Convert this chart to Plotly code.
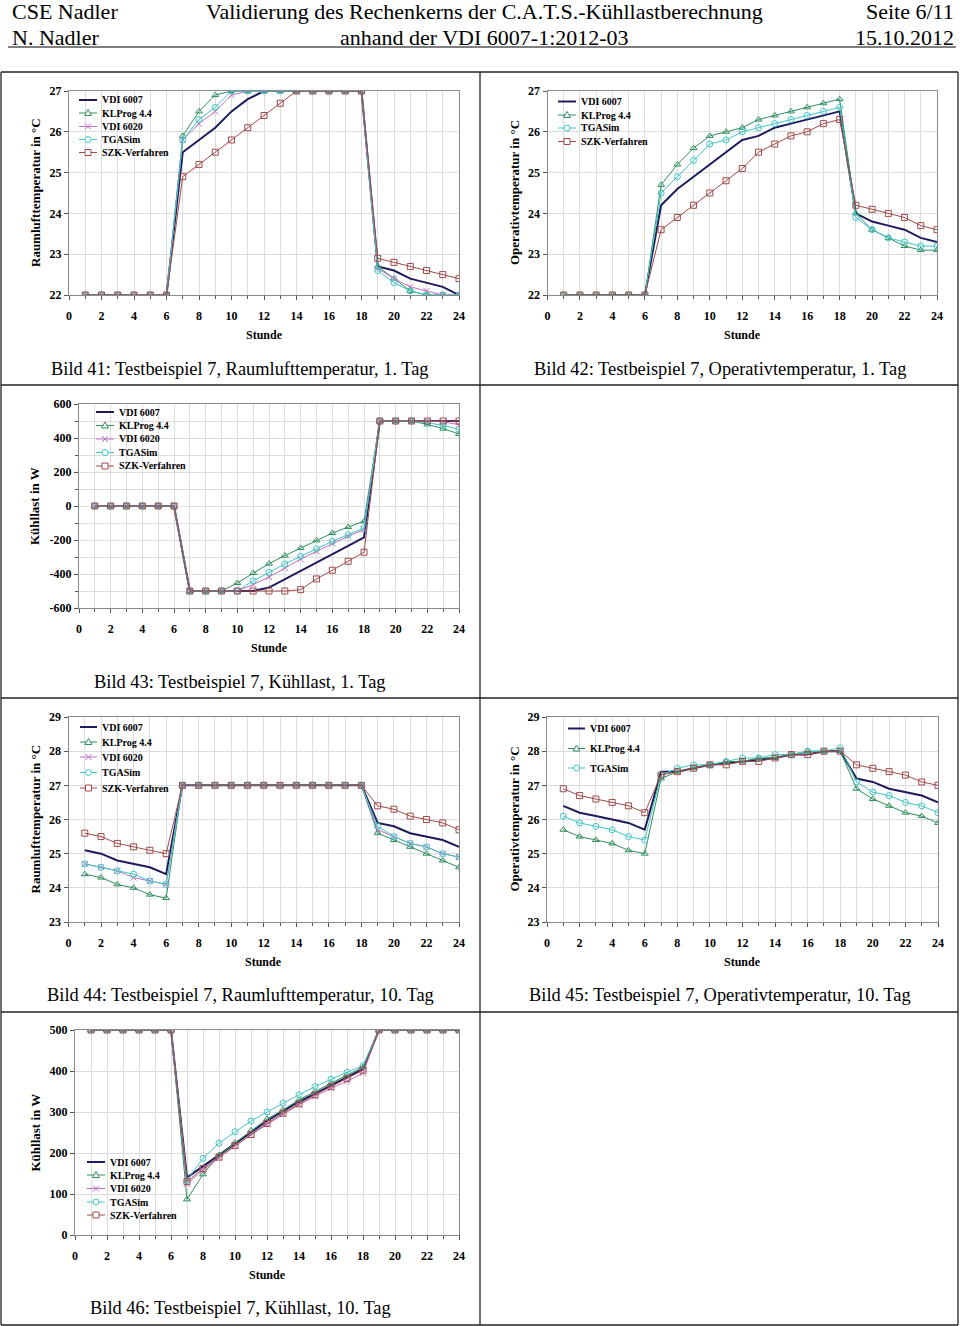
import plotly.graph_objects as go

W, H = 960, 1326
hours = list(range(1, 25))

names = ["VDI 6007", "KLProg 4.4", "VDI 6020", "TGASim", "SZK-Verfahren"]
colors = {"VDI 6007": "#1c1c5c", "KLProg 4.4": "#2f8f5f", "VDI 6020": "#c070c0",
          "TGASim": "#3fc6c6", "SZK-Verfahren": "#a04a4a"}
symbols = {"VDI 6007": None, "KLProg 4.4": "triangle-up-open", "VDI 6020": "x-thin-open",
           "TGASim": "circle-open", "SZK-Verfahren": "square-open"}

# Bild 41: Raumlufttemperatur, 1. Tag
p41_vdi6007 = [22]*6 + [25.5, 25.8, 26.1, 26.5, 26.8, 27, 27, 27, 27, 27, 27, 27, 22.7, 22.6, 22.4, 22.3, 22.2, 22.0]
p41_klprog = [22]*6 + [25.9, 26.5, 26.9, 27, 27, 27, 27, 27, 27, 27, 27, 27, 22.7, 22.4, 22.1, 22.0, 22.0, 22.0]
p41_vdi6020 = [22]*6 + [25.8, 26.2, 26.5, 26.9, 27, 27, 27, 27, 27, 27, 27, 27, 22.65, 22.4, 22.2, 22.1, 22.0, 22.0]
p41_tgasim = [22]*6 + [25.8, 26.3, 26.6, 27, 27, 27, 27, 27, 27, 27, 27, 27, 22.6, 22.3, 22.1, 22.0, 22.0, 22.0]
p41_szk = [22]*6 + [24.9, 25.2, 25.5, 25.8, 26.1, 26.4, 26.7, 27, 27, 27, 27, 27, 22.9, 22.8, 22.7, 22.6, 22.5, 22.4]

# Bild 42: Operativtemperatur, 1. Tag
p42_vdi6007 = [22]*6 + [24.2, 24.6, 24.9, 25.2, 25.5, 25.8, 25.9, 26.1, 26.2, 26.3, 26.4, 26.5, 24.0, 23.8, 23.7, 23.6, 23.4, 23.3]
p42_klprog = [22]*6 + [24.7, 25.2, 25.6, 25.9, 26.0, 26.1, 26.3, 26.4, 26.5, 26.6, 26.7, 26.8, 24.0, 23.6, 23.4, 23.2, 23.1, 23.1]
p42_tgasim = [22]*6 + [24.5, 24.9, 25.3, 25.7, 25.8, 26.0, 26.1, 26.2, 26.3, 26.4, 26.5, 26.6, 23.9, 23.6, 23.4, 23.3, 23.2, 23.2]
p42_szk = [22]*6 + [23.6, 23.9, 24.2, 24.5, 24.8, 25.1, 25.5, 25.7, 25.9, 26.0, 26.2, 26.3, 24.2, 24.1, 24.0, 23.9, 23.7, 23.6]

# Bild 43: Kühllast, 1. Tag
p43_vdi6007 = [0]*6 + [-500, -500, -500, -500, -500, -480, -430, -382, -333, -283, -234, -185, 500, 500, 500, 500, 500, 500]
p43_klprog = [0]*6 + [-500, -500, -500, -453, -394, -339, -292, -247, -202, -159, -124, -90, 500, 500, 500, 480, 455, 424]
p43_vdi6020 = [0]*6 + [-500, -500, -500, -500, -462, -418, -365, -312, -267, -222, -178, -139, 500, 500, 500, 500, 495, 478]
p43_tgasim = [0]*6 + [-500, -500, -500, -500, -440, -390, -341, -296, -251, -208, -169, -129, 500, 500, 500, 490, 474, 449]
p43_szk = [0]*6 + [-500, -500, -500, -500, -500, -500, -500, -492, -429, -378, -325, -272, 500, 500, 500, 500, 500, 500]
p43_yticks = [-600, -400, -200, 0, 200, 400, 600]
p43_yticklabels = ["-600", "-400", "-200", "0", "200", "400", "600"]

# Bild 44: Raumlufttemperatur, 10. Tag
p44_vdi6007 = [25.1, 25.0, 24.8, 24.7, 24.6, 24.4] + [27]*12 + [25.9, 25.8, 25.6, 25.5, 25.4, 25.2]
p44_klprog = [24.4, 24.3, 24.1, 24.0, 23.8, 23.7] + [27]*12 + [25.6, 25.4, 25.2, 25.0, 24.8, 24.6]
p44_vdi6020 = [24.7, 24.6, 24.5, 24.3, 24.2, 24.1] + [27]*12 + [25.7, 25.5, 25.3, 25.2, 25.0, 24.9]
p44_tgasim = [24.7, 24.6, 24.5, 24.4, 24.2, 24.1] + [27]*12 + [25.8, 25.5, 25.3, 25.2, 25.0, 24.9]
p44_szk = [25.6, 25.5, 25.3, 25.2, 25.1, 25.0] + [27]*12 + [26.4, 26.3, 26.1, 26.0, 25.9, 25.7]

# Bild 45: Operativtemperatur, 10. Tag
p45_vdi6007 = [26.4, 26.2, 26.1, 26.0, 25.9, 25.7, 27.4, 27.4, 27.5, 27.6, 27.65, 27.7, 27.75, 27.8, 27.9, 27.9, 28.0, 28.0, 27.2, 27.1, 26.9, 26.8, 26.7, 26.5]
p45_klprog = [25.7, 25.5, 25.4, 25.3, 25.1, 25.0, 27.2, 27.4, 27.5, 27.6, 27.7, 27.7, 27.8, 27.8, 27.9, 28.0, 28.0, 28.0, 26.9, 26.6, 26.4, 26.2, 26.1, 25.9]
p45_tgasim = [26.1, 25.9, 25.8, 25.7, 25.5, 25.4, 27.3, 27.5, 27.6, 27.6, 27.7, 27.8, 27.8, 27.9, 27.9, 28.0, 28.0, 28.1, 27.1, 26.8, 26.7, 26.5, 26.4, 26.2]
p45_szk = [26.9, 26.7, 26.6, 26.5, 26.4, 26.2, 27.3, 27.4, 27.5, 27.6, 27.6, 27.7, 27.7, 27.8, 27.9, 27.9, 28.0, 28.0, 27.6, 27.5, 27.4, 27.3, 27.1, 27.0]

# Bild 46: Kühllast, 10. Tag
p46_vdi6007 = [500]*6 + [140, 168, 195, 222, 250, 278, 302, 325, 345, 365, 385, 405] + [500]*6
p46_klprog = [500]*6 + [87, 148, 195, 225, 255, 283, 305, 330, 350, 370, 390, 410] + [500]*6
p46_vdi6020 = [500]*6 + [125, 158, 188, 218, 245, 270, 295, 318, 338, 358, 375, 395] + [500]*6
p46_tgasim = [500]*6 + [133, 187, 224, 252, 278, 300, 322, 342, 362, 380, 397, 413] + [500]*6
p46_szk = [500]*6 + [130, 162, 190, 218, 245, 272, 297, 320, 342, 362, 382, 402] + [500]*6

captions = ["Bild 41: Testbeispiel 7, Raumlufttemperatur, 1. Tag",
            "Bild 42: Testbeispiel 7, Operativtemperatur, 1. Tag",
            "Bild 43: Testbeispiel 7, Kühllast, 1. Tag",
            "Bild 44: Testbeispiel 7, Raumlufttemperatur, 10. Tag",
            "Bild 45: Testbeispiel 7, Operativtemperatur, 10. Tag",
            "Bild 46: Testbeispiel 7, Kühllast, 10. Tag"]
ytitles = ["Raumlufttemperatur in °C", "Operativtemperatur in °C", "Kühllast in W",
           "Raumlufttemperatur in °C", "Operativtemperatur in °C", "Kühllast in W"]

SERIF = "Liberation Serif, Times New Roman, serif"


def px(x):
    return x / W


def py(y):
    return 1 - y / H


panels = [
    dict(x0=69, x1=459, yt=91, yb=295, yr=[22, 27], dt=1, mn=None,
         series=[("VDI 6007", p41_vdi6007), ("KLProg 4.4", p41_klprog), ("VDI 6020", p41_vdi6020),
                 ("TGASim", p41_tgasim), ("SZK-Verfahren", p41_szk)],
         leg=dict(l0=79, l1=97, tx=100, ys=[100, 113, 126.5, 139.5, 152.5]), cap=(240, 369), yt_x=35),
    dict(x0=547.5, x1=937, yt=91, yb=295, yr=[22, 27], dt=1, mn=None,
         series=[("VDI 6007", p42_vdi6007), ("KLProg 4.4", p42_klprog),
                 ("TGASim", p42_tgasim), ("SZK-Verfahren", p42_szk)],
         leg=dict(l0=558, l1=576, tx=579, ys=[101.5, 115, 128, 141.5]), cap=(720, 369), yt_x=514),
    dict(x0=79, x1=459, yt=404, yb=608, yr=[-600, 600], dt=200, mn=100,
         tv=p43_yticks, tt=p43_yticklabels,
         series=[("VDI 6007", p43_vdi6007), ("KLProg 4.4", p43_klprog), ("VDI 6020", p43_vdi6020),
                 ("TGASim", p43_tgasim), ("SZK-Verfahren", p43_szk)],
         leg=dict(l0=96, l1=114, tx=117, ys=[412, 425.5, 439, 452.5, 466]), cap=(240, 682), yt_x=35),
    dict(x0=68.5, x1=459, yt=717, yb=922, yr=[23, 29], dt=1, mn=None,
         series=[("VDI 6007", p44_vdi6007), ("KLProg 4.4", p44_klprog), ("VDI 6020", p44_vdi6020),
                 ("TGASim", p44_tgasim), ("SZK-Verfahren", p44_szk)],
         leg=dict(l0=80, l1=97, tx=100, ys=[727, 742, 757, 772.5, 788]), cap=(240, 995), yt_x=35),
    dict(x0=547, x1=938, yt=717, yb=922, yr=[23, 29], dt=1, mn=None,
         series=[("VDI 6007", p45_vdi6007), ("KLProg 4.4", p45_klprog),
                 ("TGASim", p45_tgasim), ("SZK-Verfahren", p45_szk)],
         leg=dict(l0=568, l1=585, tx=588, ys=[728.5, 748.5, 768]), cap=(720, 995), yt_x=514, hide_szk=True),
    dict(x0=75, x1=459, yt=1030, yb=1235, yr=[0, 500], dt=100, mn=None,
         series=[("VDI 6007", p46_vdi6007), ("KLProg 4.4", p46_klprog), ("VDI 6020", p46_vdi6020),
                 ("TGASim", p46_tgasim), ("SZK-Verfahren", p46_szk)],
         leg=dict(l0=87, l1=105, tx=108, ys=[1162, 1175, 1188.5, 1202, 1215]), cap=(240, 1308), yt_x=35),
]

fig = go.Figure()
annotations = []
shapes = []
layout = dict(width=W, height=H, margin=dict(l=0, r=0, t=0, b=0, pad=0, autoexpand=False),
              paper_bgcolor="white", plot_bgcolor="white", showlegend=False)


def legend_sample(name, l0, l1, y):
    c = colors[name]
    sym = symbols[name]
    out = [dict(type="line", xref="paper", yref="paper", x0=px(l0), x1=px(l1), y0=py(y), y1=py(y),
                line=dict(color=c, width=2 if sym is None else 1))]
    xc = (l0 + l1) / 2
    r = 3
    if sym == "square-open":
        out.append(dict(type="rect", xref="paper", yref="paper", x0=px(xc - r), x1=px(xc + r),
                        y0=py(y + r), y1=py(y - r), line=dict(color=c, width=1), fillcolor="white"))
    elif sym == "circle-open":
        out.append(dict(type="circle", xref="paper", yref="paper", x0=px(xc - r), x1=px(xc + r),
                        y0=py(y + r), y1=py(y - r), line=dict(color=c, width=1), fillcolor="white"))
    elif sym == "triangle-up-open":
        path = "M {:.5f} {:.5f} L {:.5f} {:.5f} L {:.5f} {:.5f} Z".format(
            px(xc), py(y - r - 0.5), px(xc + r + 0.5), py(y + r - 0.5), px(xc - r - 0.5), py(y + r - 0.5))
        out.append(dict(type="path", xref="paper", yref="paper", path=path,
                        line=dict(color=c, width=1), fillcolor="white"))
    elif sym == "x-thin-open":
        out.append(dict(type="line", xref="paper", yref="paper", x0=px(xc - r), x1=px(xc + r),
                        y0=py(y - r), y1=py(y + r), line=dict(color=c, width=1)))
        out.append(dict(type="line", xref="paper", yref="paper", x0=px(xc - r), x1=px(xc + r),
                        y0=py(y + r), y1=py(y - r), line=dict(color=c, width=1)))
    return out


grid = "#dcdcdc"
for i, p in enumerate(panels):
    n = i + 1
    sfx = "" if n == 1 else str(n)
    for name, vals in p["series"]:
        sym = symbols[name]
        fig.add_trace(go.Scatter(
            x=hours, y=vals, name=name, xaxis="x" + sfx, yaxis="y" + sfx,
            mode="lines" if sym is None else "lines+markers",
            line=dict(color=colors[name], width=2 if sym is None else 1),
            marker=dict(symbol=sym, size=6, color=colors[name], line=dict(width=1, color=colors[name])) if sym else None,
            hoverinfo="skip"))
    xa = dict(domain=[px(p["x0"]), px(p["x1"])], range=[0, 24], dtick=2, tick0=0,
              anchor="y" + sfx, showgrid=True, gridcolor=grid, gridwidth=1,
              showline=True, linecolor="#8a8a8a", linewidth=1, mirror=True,
              ticks="outside", ticklen=4, tickcolor="#555", automargin=False,
              minor=dict(dtick=1, showgrid=True, gridcolor=grid, ticks="outside", ticklen=3, tickcolor="#555"),
              tickfont=dict(family=SERIF, size=12, color="black", weight="bold"),
              ticklabelstandoff=6, zeroline=False, fixedrange=True)
    ya = dict(domain=[py(p["yb"]), py(p["yt"])], range=p["yr"], dtick=p["dt"], tick0=p["yr"][0],
              anchor="x" + sfx, showgrid=True, gridcolor=grid, gridwidth=1,
              showline=True, linecolor="#8a8a8a", linewidth=1, mirror=True,
              ticks="outside", ticklen=4, tickcolor="#555", automargin=False,
              tickfont=dict(family=SERIF, size=12, color="black", weight="bold"),
              zeroline=False, fixedrange=True)
    if "tv" in p:
        ya["tickmode"] = "array"
        ya["tickvals"] = p["tv"]
        ya["ticktext"] = p["tt"]
    if p["mn"]:
        ya["minor"] = dict(dtick=p["mn"], showgrid=True, gridcolor=grid, ticks="outside", ticklen=3, tickcolor="#555")
    layout["xaxis" + sfx] = xa
    layout["yaxis" + sfx] = ya

    # legend (drawn manually for compact spacing)
    lg = p["leg"]
    leg_names = [nm for nm, _ in p["series"] if not (p.get("hide_szk") and nm == "SZK-Verfahren")]
    for nm, yy in zip(leg_names, lg["ys"]):
        shapes.extend(legend_sample(nm, lg["l0"], lg["l1"], yy))
        annotations.append(dict(x=px(lg["tx"]), y=py(yy), text="<b>" + nm + "</b>", showarrow=False,
                                xref="paper", yref="paper", xanchor="left", yanchor="middle",
                                font=dict(family=SERIF, size=10, color="black")))

    xc = (p["x0"] + p["x1"]) / 2
    annotations.append(dict(x=px(xc), y=py(p["yb"] + 40), text="<b>Stunde</b>", showarrow=False,
                            xref="paper", yref="paper", xanchor="center", yanchor="middle",
                            font=dict(family=SERIF, size=12, color="black")))
    annotations.append(dict(x=px(p["yt_x"]), y=py((p["yt"] + p["yb"]) / 2), text="<b>" + ytitles[i] + "</b>",
                            showarrow=False, textangle=-90, xref="paper", yref="paper",
                            xanchor="center", yanchor="middle",
                            font=dict(family=SERIF, size=13, color="black")))
    annotations.append(dict(x=px(p["cap"][0]), y=py(p["cap"][1]), text=captions[i], showarrow=False,
                            xref="paper", yref="paper", xanchor="center", yanchor="middle",
                            font=dict(family=SERIF, size=18.4, color="black")))

# header
hdr_font = dict(family=SERIF, size=22, color="black")
for txt, x, y, anc in [("CSE Nadler", 10, 12, "left"), ("N. Nadler", 10, 37, "left"),
                       ("Validierung des Rechenkerns der C.A.T.S.-Kühllastberechnung", 484, 12, "center"),
                       ("anhand der VDI 6007-1:2012-03", 484, 37, "center"),
                       ("Seite 6/11", 956, 12, "right"), ("15.10.2012", 956, 37, "right")]:
    annotations.append(dict(x=px(x), y=py(y), text=txt, showarrow=False, xref="paper", yref="paper",
                            xanchor=anc, yanchor="middle", font=hdr_font))

shapes.append(dict(type="line", xref="paper", yref="paper", x0=px(8), x1=px(956), y0=py(47), y1=py(47),
                   line=dict(color="black", width=1)))
tbl = dict(color="#222", width=1.3)
for y in [72, 385, 698, 1012, 1325]:
    shapes.append(dict(type="line", xref="paper", yref="paper", x0=px(1), x1=px(958), y0=py(y), y1=py(y), line=tbl))
for x in [1, 480, 958]:
    shapes.append(dict(type="line", xref="paper", yref="paper", x0=px(x), x1=px(x), y0=py(72), y1=py(1325), line=tbl))

layout["annotations"] = annotations
layout["shapes"] = shapes
fig.update_layout(**layout)

post = ("document.documentElement.style.margin='0px';document.documentElement.style.padding='0px';"
        "document.documentElement.style.overflow='hidden';"
        "document.body.style.margin='0px';document.body.style.padding='0px';document.body.style.overflow='hidden';"
        "var d=document.getElementById('{plot_id}');d.style.position='fixed';d.style.left='0px';d.style.top='0px';")
fig.write_html("out.html", config={"responsive": False, "displayModeBar": False}, post_script=post)
